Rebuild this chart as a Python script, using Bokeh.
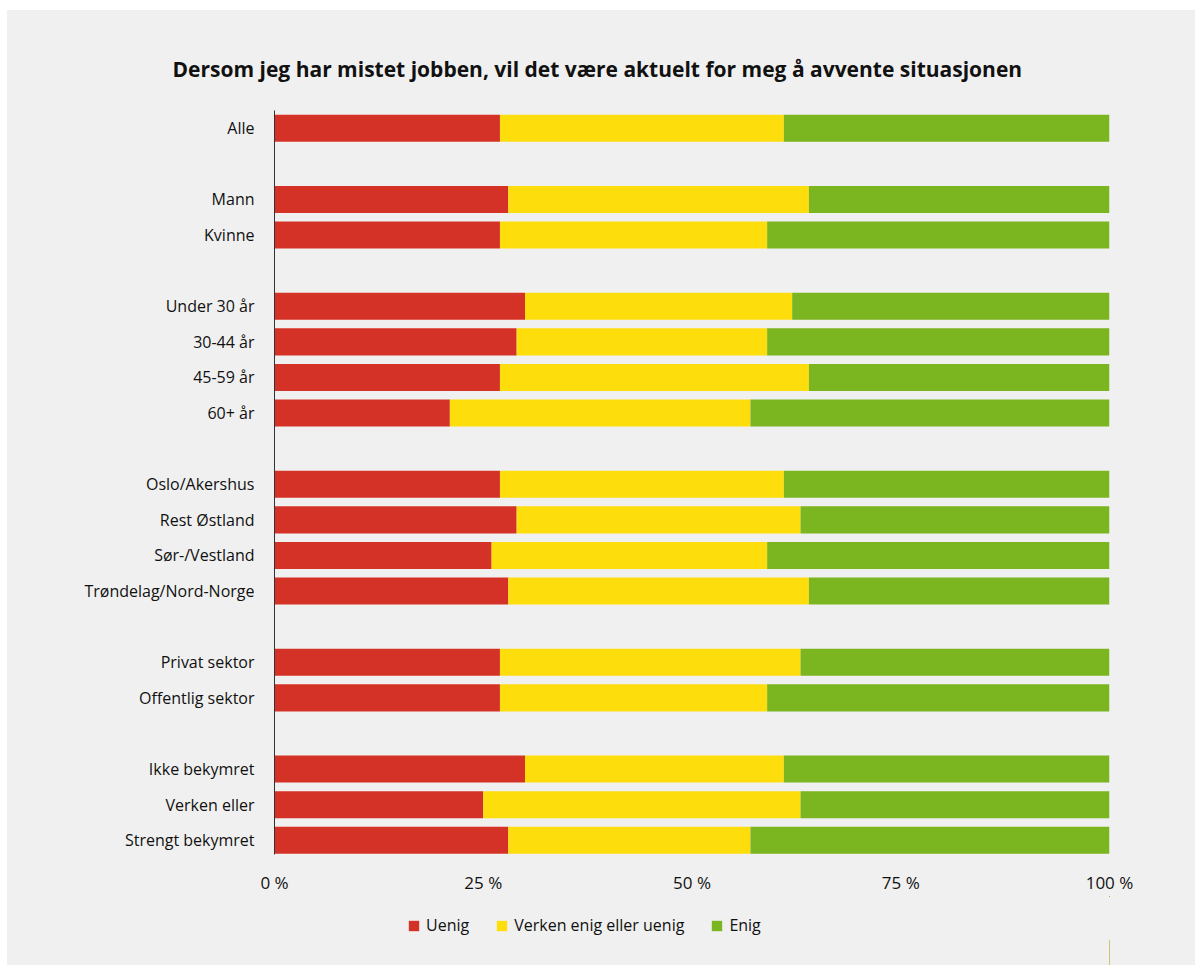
from bokeh.plotting import figure
from bokeh.layouts import column
from bokeh.models import ColumnDataSource, Range1d, FixedTicker, Legend
from bokeh.embed import file_html
from bokeh.resources import INLINE

title_text = "Dersom jeg har mistet jobben, vil det være aktuelt for meg å avvente situasjonen"

categories = ["Alle", "Mann", "Kvinne", "Under 30 år", "30-44 år", "45-59 år", "60+ år",
              "Oslo/Akershus", "Rest Østland", "Sør-/Vestland", "Trøndelag/Nord-Norge",
              "Privat sektor", "Offentlig sektor", "Ikke bekymret", "Verken eller", "Strengt bekymret"]
group_sizes = [1, 2, 4, 4, 2, 3]

uenig  = [27, 28, 27, 30, 29, 27, 21, 27, 29, 26, 28, 27, 27, 30, 25, 28]
verken = [34, 36, 32, 32, 30, 37, 36, 34, 34, 33, 36, 36, 32, 31, 38, 29]
enig   = [39, 36, 41, 38, 41, 36, 43, 39, 37, 41, 36, 37, 41, 39, 37, 43]

series_keys = ["uenig", "verken", "enig"]
series_names = ["Uenig", "Verken enig eller uenig", "Enig"]
colors = ["#d53227", "#fedd0d", "#7bb51f"]

x_ticks = [0, 25, 50, 75, 100]
x_tick_labels = ["0 %", "25 %", "50 %", "75 %", "100 %"]

# slot positions, with an empty slot between groups
ypos = []
slot = 0
for g in group_sizes:
    for _ in range(g):
        ypos.append(slot)
        slot += 1
    slot += 1
n_slots = slot - 1

src = ColumnDataSource(dict(y=ypos, cat=categories, uenig=uenig, verken=verken, enig=enig))

BG = "#f0f0f0"
p = figure(frame_width=835, frame_height=744, output_backend="svg", toolbar_location=None,
           x_range=Range1d(0, 100), y_range=Range1d(n_slots - 0.6, -0.5),
           min_border_left=267, min_border_right=86, min_border_top=100, min_border_bottom=40,
           background_fill_color=None, border_fill_color=None, outline_line_color=None)

renderers = p.hbar_stack(series_keys, y="y", height=0.76, color=colors, source=src, line_width=0)

p.title.text = title_text
p.title.align = "left"
p.title.offset = -102
p.title.standoff = 56
p.title.text_font = "Open Sans"
p.title.text_font_style = "bold"
p.title.text_font_size = "21px"
p.title.text_color = "#111111"

p.xgrid.visible = False
p.ygrid.visible = False

xa = p.xaxis[0]
xa.ticker = FixedTicker(ticks=x_ticks)
xa.major_label_overrides = {t: l for t, l in zip(x_ticks, x_tick_labels)}
xa.axis_line_color = None
xa.major_tick_line_color = None
xa.minor_tick_line_color = None
xa.major_label_standoff = 10
xa.major_label_text_font = "Open Sans"
xa.major_label_text_font_size = "17px"
xa.major_label_text_color = "#111111"

ya = p.yaxis[0]
ya.ticker = FixedTicker(ticks=ypos)
ya.major_label_overrides = {y: c for y, c in zip(ypos, categories)}
ya.axis_line_color = "#333333"
ya.axis_line_width = 1
ya.major_tick_line_color = None
ya.minor_tick_line_color = None
ya.major_label_standoff = 14
ya.major_label_text_font = "Open Sans"
ya.major_label_text_font_size = "16px"
ya.major_label_text_color = "#111111"

# legend strip below the chart (same series, drawn outside its visible range)
p2 = figure(width=1188, height=70, output_backend="svg", toolbar_location=None,
            x_range=Range1d(-2, -1), y_range=Range1d(0, 1), min_border=0,
            background_fill_color=None, border_fill_color=None, outline_line_color=None)
p2.axis.visible = False
p2.grid.visible = False
leg_renderers = p2.hbar_stack(series_keys, y="y", height=0.76, color=colors, source=src, line_width=0)

legend = Legend(items=[(n, [r]) for n, r in zip(series_names, leg_renderers)],
                orientation="horizontal", location=(133, 30),
                background_fill_alpha=0, border_line_color=None,
                glyph_width=13, glyph_height=13, label_standoff=6, spacing=26,
                label_text_font="Open Sans", label_text_font_size="16px",
                label_text_color="#111111", margin=0, padding=0)
p2.add_layout(legend)

layout = column(p, p2, spacing=0, margin=(10, 0, 0, 7),
                styles={"background-color": BG})
open("out.html", "w").write(file_html(layout, INLINE))
